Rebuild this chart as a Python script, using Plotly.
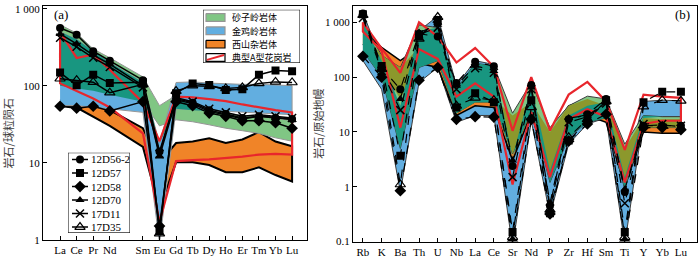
import plotly.graph_objects as go
import numpy as np

# ---------------- data ----------------
REE_ALL = ["La", "Ce", "Pr", "Nd", "Pm", "Sm", "Eu", "Gd", "Tb", "Dy", "Ho", "Er", "Tm", "Yb", "Lu"]
REE = ["La", "Ce", "Pr", "Nd", "Sm", "Eu", "Gd", "Tb", "Dy", "Ho", "Er", "Tm", "Yb", "Lu"]
SPIDER = ["Rb", "K", "Ba", "Th", "U", "Nb", "La", "Ce", "Sr", "Nd", "P", "Zr", "Hf", "Sm", "Ti", "Y", "Yb", "Lu"]

SAMPLES = ["12D56-2", "12D57", "12D58", "12D70", "17D11", "17D35"]

# chondrite-normalised REE
ree_12D56_2 = [560, 460, 280, 210, 118, 14, 68, 60, 48, 43, 38, 40, 38, 37]
ree_12D57 = [148, 101, 139, 108, 111, 1.3, 80, 107, 102, 88, 90, 139, 157, 154]
ree_12D58 = [54, 51, 54, 47, 62, 1.5, 62, 55, 44, 40, 35, 35, 33, 28]
ree_12D70 = [470, 350, 250, 190, 100, 12, 66, 58, 46, 42, 37, 40, 39, 36]
ree_17D11 = [420, 320, 230, 175, 95, 13, 70, 62, 50, 45, 40, 42, 40, 38]
ree_17D35 = [123, 118, 111, 81, 104, 1.2, 85, 100, 98, 92, 95, 107, 112, 110]

# primitive-mantle-normalised trace elements
pm_12D56_2 = [1450, 150, 60, 620, 550, 78, 190, 158, 2.4, 72, 0.45, 17, 21, 40, 0.8, 13, 13, 13]
pm_12D57 = [1400, 160, 3.7, 550, 1100, 28, 51, 35, 0.15, 38, 0.33, 7, 16, 38, 0.15, 35, 54, 54]
pm_12D58 = [240, 100, 0.85, 88, 150, 17, 19, 18.7, 0.1, 17, 0.32, 6.8, 14, 21, 0.1, 12, 12, 11]
pm_12D70 = [1300, 140, 40, 650, 900, 70, 162, 130, 3.0, 65, 0.5, 18, 20, 34, 0.9, 13, 13.5, 12.5]
pm_17D11 = [1200, 130, 25, 600, 800, 60, 145, 120, 1.5, 60, 0.4, 15, 19, 33, 0.5, 14, 14, 13]
pm_17D35 = [1350, 140, 1.1, 500, 1250, 30, 42, 38, 0.12, 28, 0.38, 8, 17, 36, 0.12, 29, 38, 37]

# reference fields, REE (upper / lower envelopes)
shazi_ree_hi = [620, 480, 300, 230, 130, 55, 75, 52, 47, 44, 41, 40, 38, 35]
shazi_ree_lo = [100, 92, 86, 76, 62, 30, 36, 34, 31, 28, 26, 24, 21, 19]
jinji_ree_hi = [500, 400, 280, 200, 110, 18, 110, 112, 108, 105, 104, 104, 102, 100]
jinji_ree_lo = [55, 55, 52, 50, 45, 0.9, 50, 48, 47, 46, 45, 44, 43, 42]
xishan_ree_hi = [64, 70, 62, 48, 28, 10, 18, 18.8, 20.8, 18, 20, 25, 18.8, 16.3]
xishan_ree_lo = [56, 52, 40, 30, 16, 2.5, 10.1, 10.1, 9.3, 7.5, 7.5, 8.7, 6.9, 5.7]
atype_ree_hi = [500, 229, 255, 161, 60, 19, 72, 70.5, 67, 63, 57, 52, 48, 45]
atype_ree_lo = [107, 85, 68, 52, 24, 1.7, 10.5, 10.8, 11, 11.4, 12, 12.7, 13, 12.7]

# reference fields, spider diagram
shazi_pm_hi = [1000, 250, 150, 900, 800, 60, 180, 160, 22, 80, 12, 30, 45, 40, 6, 20, 19, 19]
shazi_pm_lo = [300, 100, 5, 150, 200, 22, 35, 35, 4, 25, 1.2, 8, 15, 18, 0.9, 12, 12, 12]
jinji_pm_hi = [1500, 200, 30, 700, 1300, 70, 200, 170, 3.5, 70, 2.0, 20, 30, 35, 1.5, 36, 38, 37]
jinji_pm_lo = [200, 60, 0.8, 80, 150, 15, 20, 20, 0.08, 16, 0.3, 6, 14, 18, 0.09, 18, 19, 19]
xishan_pm_hi = [700, 350, 200, 350, 300, 30, 45, 40, 20, 35, 10, 30, 40, 30, 5, 18, 17, 17]
xishan_pm_lo = [400, 150, 40, 180, 150, 20, 30, 28, 3, 22, 1.5, 12, 20, 15, 1, 10, 9.5, 9.5]
atype_pm_hi = [1000, 335, 120, 1000, 550, 185, 340, 155, 10.5, 100, 10.6, 48, 82, 36, 4.7, 48, 44, 42]
atype_pm_lo = [680, 300, 12, 325, 215, 44, 77, 44, 1.1, 23, 1.5, 17, 26, 19, 1.2, 14, 16, 16]

FIELD_NAMES = ["砂子岭岩体", "金鸡岭岩体", "西山杂岩体", "典型A型花岗岩"]

# ---------------- styles ----------------
C_GREEN = "rgb(128,198,132)"
C_BLUE = "rgb(98,174,224)"
C_ORANGE = "rgb(240,132,40)"
C_TEAL = "rgb(24,150,128)"
C_OLIVE = "rgb(140,152,44)"
C_RED = "rgb(232,38,44)"
SERIF = "Liberation Serif"
CJK = "Noto Sans CJK SC"

MARKERS = {
    "12D56-2": dict(symbol="circle", size=8, color="black"),
    "12D57": dict(symbol="square", size=8, color="black"),
    "12D58": dict(symbol="diamond", size=9, color="black"),
    "12D70": dict(symbol="triangle-up", size=8, color="black"),
    "17D11": dict(symbol="x-thin-open", size=8, color="black", line=dict(width=1.5, color="black")),
    "17D35": dict(symbol="triangle-up-open", size=9, color="black", line=dict(width=1.2, color="black")),
}

ree_data = [ree_12D56_2, ree_12D57, ree_12D58, ree_12D70, ree_17D11, ree_17D35]
pm_data = [pm_12D56_2, pm_12D57, pm_12D58, pm_12D70, pm_17D11, pm_17D35]

x_ree = [REE_ALL.index(e) for e in REE]
x_pm = list(range(len(SPIDER)))

fig = go.Figure()


def poly(x, hi, lo):
    return list(x) + list(x)[::-1], list(hi) + list(lo)[::-1]


def overlap(h1, l1, h2, l2):
    h = np.minimum(h1, h2)
    l = np.maximum(l1, l2)
    l = np.minimum(l, h)
    return h, l


def add_field(x, hi, lo, color, xa, ya, border="rgb(150,150,150)", bw=1.0):
    px, py = poly(x, hi, lo)
    fig.add_trace(go.Scatter(
        x=px, y=py, mode="lines", fill="toself", fillcolor=color,
        line=dict(color=border, width=bw), showlegend=False,
        xaxis=xa, yaxis=ya, hoverinfo="skip"))


# ---- panel (a) fields ----
add_field(x_ree, xishan_ree_hi, xishan_ree_lo, C_ORANGE, "x", "y", border="black", bw=2)
add_field(x_ree, shazi_ree_hi, shazi_ree_lo, C_GREEN, "x", "y")
add_field(x_ree, jinji_ree_hi, jinji_ree_lo, C_BLUE, "x", "y")
h, l = overlap(np.array(shazi_ree_hi), np.array(shazi_ree_lo), np.array(jinji_ree_hi), np.array(jinji_ree_lo))
add_field(x_ree, h, l, C_TEAL, "x", "y", border="rgba(0,0,0,0)", bw=0)

# ---- panel (b) fields ----
add_field(x_pm, jinji_pm_hi, jinji_pm_lo, C_BLUE, "x2", "y2", border="rgb(60,60,60)", bw=1)
add_field(x_pm, xishan_pm_hi, xishan_pm_lo, C_ORANGE, "x2", "y2", border="black", bw=1.5)
add_field(x_pm, shazi_pm_hi, shazi_pm_lo, C_GREEN, "x2", "y2", border="rgb(60,60,60)", bw=1)
h, l = overlap(np.array(shazi_pm_hi), np.array(shazi_pm_lo), np.array(xishan_pm_hi), np.array(xishan_pm_lo))
add_field(x_pm, h, l, C_OLIVE, "x2", "y2", border="rgba(0,0,0,0)", bw=0)
h, l = overlap(np.array(shazi_pm_hi), np.array(shazi_pm_lo), np.array(jinji_pm_hi), np.array(jinji_pm_lo))
add_field(x_pm, h, l, C_TEAL, "x2", "y2", border="rgba(0,0,0,0)", bw=0)

# ---- A-type outline ----
px, py = poly(x_ree, atype_ree_hi, atype_ree_lo)
fig.add_trace(go.Scatter(x=px + [px[0]], y=py + [py[0]], mode="lines",
                         line=dict(color=C_RED, width=2.2), showlegend=False,
                         xaxis="x", yaxis="y"))
px, py = poly(x_pm, atype_pm_hi, atype_pm_lo)
fig.add_trace(go.Scatter(x=px + [px[0]], y=py + [py[0]], mode="lines",
                         line=dict(color=C_RED, width=2.2), showlegend=False,
                         xaxis="x2", yaxis="y2"))

# ---- samples ----
for name, rv, pv in zip(SAMPLES, ree_data, pm_data):
    fig.add_trace(go.Scatter(x=x_ree, y=rv, mode="lines+markers", name=name,
                             line=dict(color="black", width=1.5), marker=MARKERS[name],
                             showlegend=False, xaxis="x", yaxis="y"))
    fig.add_trace(go.Scatter(x=x_pm, y=pv, mode="lines+markers", name=name, showlegend=False,
                             line=dict(color="black", width=1.2, dash="dash"),
                             marker=MARKERS[name], xaxis="x2", yaxis="y2"))

# ---- custom legends (drawn in their own small overlay axes, pixel units) ----
W, H = 700, 264
annotations = []

# sample legend box (x3/y3)
L2 = dict(x0=68, x1=130, y0=155, y1=238)
fig.add_trace(go.Scatter(x=[L2["x0"], L2["x1"], L2["x1"], L2["x0"], L2["x0"]],
                         y=[L2["y0"], L2["y0"], L2["y1"], L2["y1"], L2["y0"]],
                         mode="lines", fill="toself", fillcolor="white",
                         line=dict(color="black", width=1), showlegend=False,
                         cliponaxis=False, xaxis="x3", yaxis="y3", hoverinfo="skip"))
for i, name in enumerate(SAMPLES):
    yy = 162 + i * 14
    fig.add_trace(go.Scatter(x=[72, 88], y=[yy, yy], mode="lines",
                             line=dict(color="black", width=1.5), showlegend=False,
                             cliponaxis=False, xaxis="x3", yaxis="y3", hoverinfo="skip"))
    fig.add_trace(go.Scatter(x=[80], y=[yy], mode="markers", marker=MARKERS[name],
                             showlegend=False, cliponaxis=False,
                             xaxis="x3", yaxis="y3", hoverinfo="skip"))
    annotations.append(dict(text=name, x=89, y=yy, xref="x3", yref="y3", showarrow=False,
                            xanchor="left", yanchor="middle",
                            font=dict(family=SERIF, size=11, color="black")))

# field legend box (x4/y4)
L1 = dict(x0=203, x1=300, y0=7, y1=62)
fig.add_trace(go.Scatter(x=[L1["x0"], L1["x1"], L1["x1"], L1["x0"], L1["x0"]],
                         y=[L1["y0"], L1["y0"], L1["y1"], L1["y1"], L1["y0"]],
                         mode="lines", fill="toself", fillcolor="white",
                         line=dict(color="black", width=1), showlegend=False,
                         cliponaxis=False, xaxis="x4", yaxis="y4", hoverinfo="skip"))
sw_cols = [(C_GREEN, "rgb(150,150,150)"), (C_BLUE, "rgb(150,150,150)"),
           (C_ORANGE, "black"), ("white", "black")]
for i, (nm, (fc, bc)) in enumerate(zip(FIELD_NAMES, sw_cols)):
    yy = 15 + i * 13.8
    fig.add_trace(go.Scatter(x=[206, 225, 225, 206, 206],
                             y=[yy - 4, yy - 4, yy + 4, yy + 4, yy - 4],
                             mode="lines", fill="toself", fillcolor=fc,
                             line=dict(color=bc, width=1.2), showlegend=False,
                             cliponaxis=False, xaxis="x4", yaxis="y4", hoverinfo="skip"))
    if i == 3:
        fig.add_trace(go.Scatter(x=[207, 224], y=[yy + 2.5, yy - 2.5], mode="lines",
                                 line=dict(color=C_RED, width=2), showlegend=False,
                                 cliponaxis=False, xaxis="x4", yaxis="y4", hoverinfo="skip"))
    annotations.append(dict(text=nm, x=230, y=yy, xref="x4", yref="y4", showarrow=False,
                            xanchor="left", yanchor="middle", height=12,
                            font=dict(family=CJK, size=9, color="black")))

# ---------------- layout ----------------
axis_common = dict(showline=True, mirror=True, linecolor="black", linewidth=1,
                   ticks="inside", ticklen=4, tickcolor="black", showgrid=False,
                   zeroline=False, tickangle=0,
                   tickfont=dict(family=SERIF, size=11, color="black"))
hidden = dict(visible=False, showgrid=False, zeroline=False, fixedrange=True)

annotations += [
    dict(text="(a)", x=52 / W, y=1 - 12 / H, xref="paper", yref="paper",
         showarrow=False, xanchor="left", yanchor="middle",
         font=dict(family=SERIF, size=13, color="black")),
    dict(text="(b)", x=692 / W, y=1 - 12 / H, xref="paper", yref="paper",
         showarrow=False, xanchor="right", yanchor="middle",
         font=dict(family=SERIF, size=13, color="black")),
    dict(text="岩石/球粒陨石", x=8 / W, y=1 - 135 / H, xref="paper", yref="paper",
         showarrow=False, textangle=-90, xanchor="center", yanchor="middle",
         font=dict(family=CJK, size=11, color="rgb(60,60,60)")),
    dict(text="岩石/原始地幔", x=318 / W, y=1 - 125 / H, xref="paper", yref="paper",
         showarrow=False, textangle=-90, xanchor="center", yanchor="middle",
         font=dict(family=CJK, size=11, color="rgb(60,60,60)")),
]

fig.update_layout(
    width=W, height=H, margin=dict(l=0, r=0, t=0, b=0),
    paper_bgcolor="white", plot_bgcolor="rgba(0,0,0,0)", showlegend=False,
    xaxis=dict(domain=[43 / W, 307 / W], range=[-1.03, 14.9],
               tickmode="array", tickvals=x_ree, ticktext=REE, anchor="y", **axis_common),
    yaxis=dict(domain=[1 - 245 / H, 1 - 3 / H], type="log", range=[0, 3.036],
               tickmode="array", tickvals=[1, 10, 100, 1000],
               ticktext=["1", "10", "100", "1 000"], anchor="x", **axis_common),
    xaxis2=dict(domain=[353 / W, 697 / W], range=[-0.53, 17.86],
                tickmode="array", tickvals=x_pm, ticktext=SPIDER, anchor="y2", **axis_common),
    yaxis2=dict(domain=[1 - 247 / H, 1 - 3 / H], type="log", range=[-1.0, 3.30],
                tickmode="array", tickvals=[0.1, 1, 10, 100, 1000],
                ticktext=["0.1", "1", "10", "100", "1 000"], anchor="x2", **axis_common),
    xaxis3=dict(domain=[L2["x0"] / W, L2["x1"] / W], range=[L2["x0"], L2["x1"]], anchor="y3", **hidden),
    yaxis3=dict(domain=[1 - L2["y1"] / H, 1 - L2["y0"] / H], range=[L2["y1"], L2["y0"]], anchor="x3", **hidden),
    xaxis4=dict(domain=[L1["x0"] / W, L1["x1"] / W], range=[L1["x0"], L1["x1"]], anchor="y4", **hidden),
    yaxis4=dict(domain=[1 - L1["y1"] / H, 1 - L1["y0"] / H], range=[L1["y1"], L1["y0"]], anchor="x4", **hidden),
    annotations=annotations,
)

fig.write_html("out.html", config={"displayModeBar": False},
               post_script="document.body.style.margin='0px';")
